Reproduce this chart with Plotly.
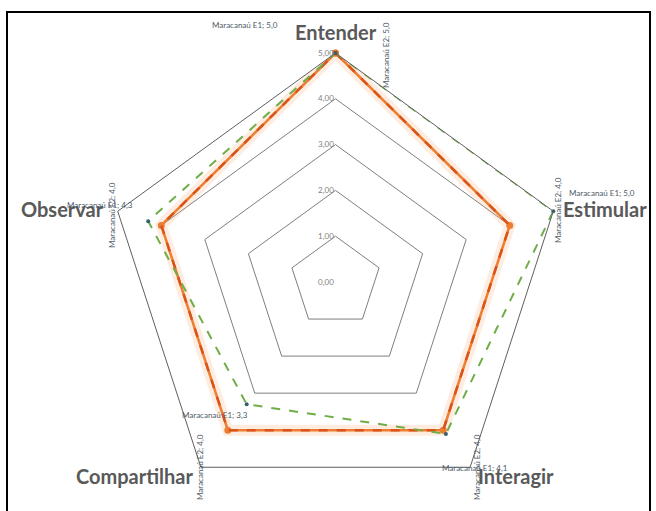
import plotly.graph_objects as go

# Categories (clockwise from the top)
categories = ["Entender", "Estimular", "Interagir", "Compartilhar", "Observar"]

# Series values
e1_name = "Maracanaú E1"
e1_values = [5.0, 5.0, 4.1, 3.3, 4.3]
e2_name = "Maracanaú E2"
e2_values = [5.0, 4.0, 4.0, 4.0, 4.0]
base_values = [5.0, 4.0, 4.0, 4.0, 4.0]

# Radial scale
radial_ticks = [0, 1, 2, 3, 4, 5]

W, H = 656, 511


def closed(vals):
    return list(vals) + [vals[0]]


theta = closed(categories)

fig = go.Figure()

# soft glow under the solid orange series
fig.add_trace(go.Scatterpolar(
    r=closed(base_values), theta=theta, mode="lines",
    line=dict(color="rgba(247,170,110,0.22)", width=11),
    hoverinfo="skip", showlegend=False))

fig.add_trace(go.Scatterpolar(
    r=closed(base_values), theta=theta, mode="lines+markers",
    line=dict(color="#ED7D31", width=2.5),
    marker=dict(color="#ED7D31", size=7),
    showlegend=False))

fig.add_trace(go.Scatterpolar(
    r=closed(e2_values), theta=theta, mode="lines", name=e2_name,
    line=dict(color="#D9541A", width=2.5, dash="dash"),
    showlegend=False))

fig.add_trace(go.Scatterpolar(
    r=closed(e1_values), theta=theta, mode="lines+markers", name=e1_name,
    line=dict(color="#70AD47", width=2, dash="dash"),
    marker=dict(color="#35606e", size=4),
    showlegend=False))

# polar area: centre (335, 282), radius ~229 px
fig.update_layout(
    width=W, height=H,
    margin=dict(l=0, r=0, t=0, b=0),
    paper_bgcolor="white",
    separators=",.",
    font=dict(family="Lato, Open Sans, sans-serif", color="#595959"),
    polar=dict(
        domain=dict(x=[0.1601, 0.8628], y=[0.0, 0.8963]),
        bgcolor="white",
        gridshape="linear",
        radialaxis=dict(
            range=[0, 5], tickvals=radial_ticks, tickformat=".2f",
            angle=90, side="counterclockwise", tickangle=90,
            showline=False, ticks="",
            gridcolor="#7f7f7f", gridwidth=1,
            tickfont=dict(size=8, color="#7f7f7f"),
        ),
        angularaxis=dict(
            rotation=90, direction="clockwise",
            showgrid=False, showline=True, showticklabels=False,
            linecolor="#5f5f5f", linewidth=1, ticks="",
        ),
    ),
)

# category names just outside each outer vertex: (x px, y px, xanchor)
cat_spots = [(336, 32, "center"), (561, 209, "left"), (476, 476, "left"),
             (196, 476, "right"), (106, 209, "right")]
for name, (px, py, xa) in zip(categories, cat_spots):
    fig.add_annotation(
        text=name, x=px / W, y=1 - py / H, xref="paper", yref="paper",
        showarrow=False, xanchor=xa, yanchor="middle",
        font=dict(size=20, color="#595959", weight="bold"))


def fmt(v):
    return f"{v:.1f}".replace(".", ",")


# data labels: (category index, series, x px, y px, angle)
label_spots = [
    (0, "e1", 245, 25, 0), (0, "e2", 386, 55, -90),
    (1, "e1", 602, 193, 0), (1, "e2", 558, 210, -90),
    (2, "e1", 475, 468, 0), (2, "e2", 477, 467, -90),
    (3, "e1", 215, 415, 0), (3, "e2", 200, 467, -90),
    (4, "e1", 100, 205, 0), (4, "e2", 112, 215, -90),
]
series = {"e1": (e1_name, e1_values), "e2": (e2_name, e2_values)}
for idx, key, px, py, ang in label_spots:
    name, vals = series[key]
    fig.add_annotation(
        text=f"{name}; {fmt(vals[idx])}",
        x=px / W, y=1 - py / H, xref="paper", yref="paper",
        showarrow=False, textangle=ang,
        font=dict(size=8, color="#4d5966"),
        xanchor="center", yanchor="middle")

# chart frame
fig.add_shape(type="rect", xref="paper", yref="paper",
              x0=7 / W, x1=650 / W, y0=-0.05, y1=1 - 12 / H,
              line=dict(color="black", width=2), layer="below")

fig.write_html("out.html")
